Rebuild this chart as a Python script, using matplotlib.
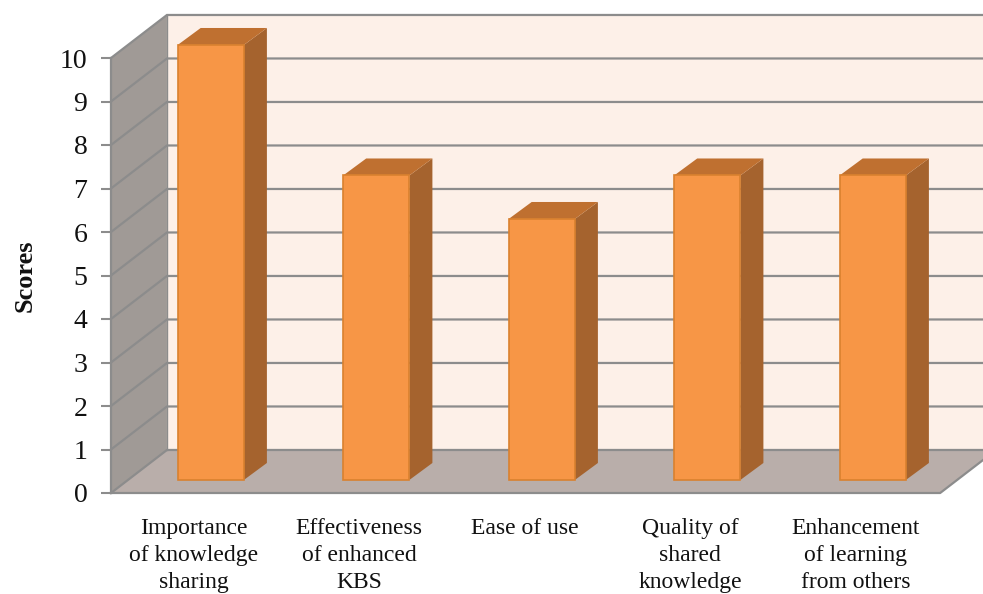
import matplotlib
matplotlib.use("Agg")
import matplotlib.pyplot as plt
from matplotlib.patches import Polygon

plt.rcParams["font.family"] = ["Liberation Serif", "DejaVu Serif"]

categories = ["Importance\nof knowledge\nsharing", "Effectiveness\nof enhanced\nKBS", "Ease of use",
              "Quality of\nshared\nknowledge", "Enhancement\nof learning\nfrom others"]
scores = [10, 7, 6, 7, 7]
y_ticks = list(range(11))

# oblique offsets in data units (x = category slots, y = score)
WALL_DX, WALL_DY = 0.338, 0.989
BAR_SHIFT_X, BAR_SHIFT_Y = 0.103, 0.30
BAR_W = 0.40
BAR_DX, BAR_DY = 0.139, 0.39

GRID = "#8c8c8c"
W, H = 983, 594

fig = plt.figure(figsize=(W / 100, H / 100), dpi=100)
ax = fig.add_axes([111 / W, 1 - 493 / H, 827.5 / W, 435 / H])
ax.set_xlim(0, 5)
ax.set_ylim(0, 10)


def poly(pts, color, edge="none", lw=0, z=1, clip=False):
    ax.add_patch(Polygon(pts, closed=True, facecolor=color, edgecolor=edge, linewidth=lw,
                         zorder=z, clip_on=clip, joinstyle="miter"))


# back wall, side wall, floor
far_right = 5.5
poly([(WALL_DX, WALL_DY), (far_right, WALL_DY), (far_right, 10 + WALL_DY), (WALL_DX, 10 + WALL_DY)], "#fdf0e8")
poly([(0, 0), (WALL_DX, WALL_DY), (WALL_DX, 10 + WALL_DY), (0, 10)], "#a09a96")
poly([(0, 0), (5 + 0.01, 0), (5 + 0.01 + WALL_DX, WALL_DY), (WALL_DX, WALL_DY)], "#b9aeaa")

# gridlines run up the side wall and along the back
for v in y_ticks:
    ax.plot([0, WALL_DX, far_right], [v, v + WALL_DY, v + WALL_DY], color=GRID, lw=1.6, zorder=2,
            clip_on=False, solid_joinstyle="miter")
ax.plot([0, 0], [0, 10], color=GRID, lw=1.6, zorder=2, clip_on=False)
ax.plot([0, 5.01, 5.01 + WALL_DX], [0, 0, WALL_DY], color=GRID, lw=1.6, zorder=2, clip_on=False)
ax.plot([WALL_DX, WALL_DX], [WALL_DY, 10 + WALL_DY], color=GRID, lw=1.0, zorder=2, clip_on=False)

# 3D bars: front, side and top faces
for i, val in enumerate(scores):
    x0 = i + 0.5 + BAR_SHIFT_X - BAR_W / 2
    x1 = x0 + BAR_W
    y0 = BAR_SHIFT_Y
    y1 = val + BAR_SHIFT_Y
    poly([(x1, y0), (x1 + BAR_DX, y0 + BAR_DY), (x1 + BAR_DX, y1 + BAR_DY), (x1, y1)], "#a5632e", z=3)
    poly([(x0, y1), (x1, y1), (x1 + BAR_DX, y1 + BAR_DY), (x0 + BAR_DX, y1 + BAR_DY)], "#bf7030", z=3)
    poly([(x0, y0), (x1, y0), (x1, y1), (x0, y1)], "#f79646", edge="#d9812f", lw=1.2, z=4)

for s in ax.spines.values():
    s.set_visible(False)
ax.patch.set_visible(False)

ax.set_yticks(y_ticks)
ax.tick_params(axis="y", length=7, width=1.5, color=GRID, labelsize=20, pad=10, labelcolor="#111111")
ax.set_xticks([i + 0.5 for i in range(len(categories))])
ax.set_xticklabels(categories, fontsize=17, linespacing=1.36, color="#111111", va="top")
ax.tick_params(axis="x", length=0, pad=18)
ax.set_ylabel("Scores", fontsize=19, fontweight="bold", color="#111111")
ax.yaxis.set_label_coords(-0.09, 0.5)

fig.savefig("out.png", dpi=100, facecolor="white")
